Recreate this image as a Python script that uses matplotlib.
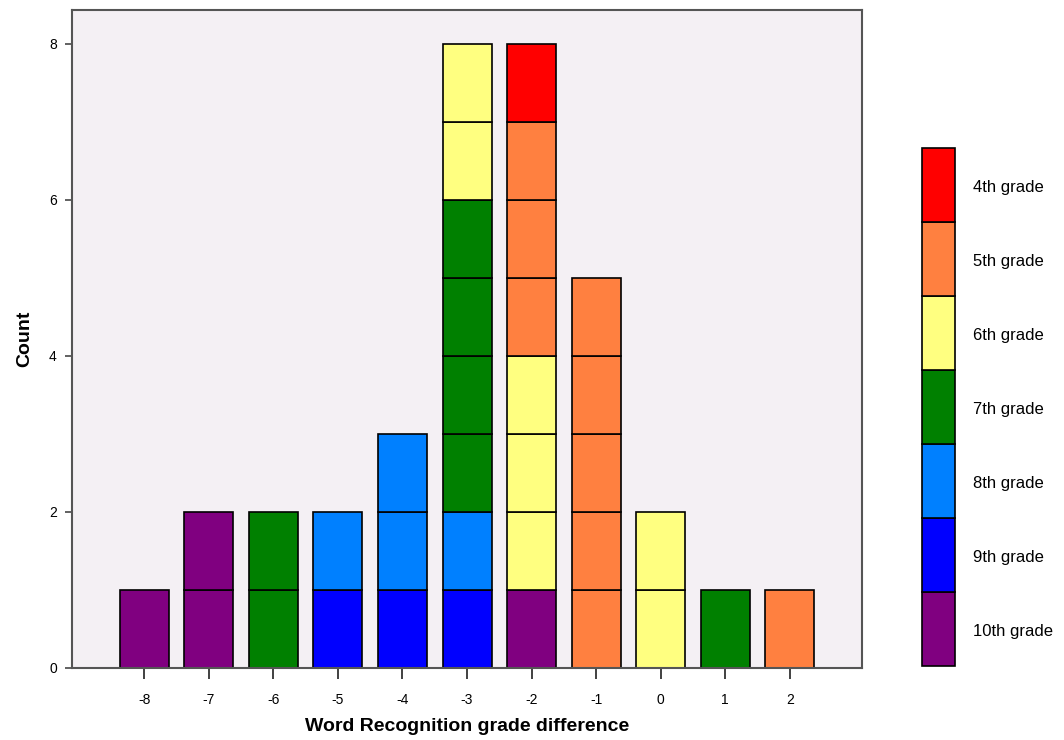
import numpy as np
import matplotlib
matplotlib.use("Agg")
import matplotlib.pyplot as plt
from matplotlib.patches import Rectangle

plt.rcParams['font.family'] = ['Liberation Sans', 'DejaVu Sans']
plt.rcParams['axes.unicode_minus'] = False

diffs = [-8, -7, -6, -5, -4, -3, -2, -1, 0, 1, 2]
grades = ['10th grade', '9th grade', '8th grade', '7th grade', '6th grade', '5th grade', '4th grade']
colors = ['#800080', '#0000FF', '#0080FF', '#008000', '#FFFF80', '#FF8040', '#FF0000']

# counts per grade, one entry per difference value (stacked bottom -> top)
c10 = [1, 2, 0, 0, 0, 0, 1, 0, 0, 0, 0]
c9 = [0, 0, 0, 1, 1, 1, 0, 0, 0, 0, 0]
c8 = [0, 0, 0, 1, 2, 1, 0, 0, 0, 0, 0]
c7 = [0, 0, 2, 0, 0, 4, 0, 0, 0, 1, 0]
c6 = [0, 0, 0, 0, 0, 2, 3, 0, 2, 0, 0]
c5 = [0, 0, 0, 0, 0, 0, 3, 5, 0, 0, 1]
c4 = [0, 0, 0, 0, 0, 0, 1, 0, 0, 0, 0]
counts = [c10, c9, c8, c7, c6, c5, c4]

fig = plt.figure(figsize=(10.64, 7.4), dpi=100)
ax = fig.add_axes([0.0677, 0.0973, 0.7425, 0.8892])
ax.set_facecolor('#F4F0F4')

bottom = np.zeros(len(diffs))
for cnt, col in zip(counts, colors):
    for i, x in enumerate(diffs):
        for k in range(cnt[i]):
            ax.bar(x, 1, bottom=bottom[i], width=0.76, color=col,
                   edgecolor='black', linewidth=1.2)
            bottom[i] += 1

ax.set_xlim(-9.12, 3.12)
ax.set_ylim(0, 8.43)
ax.set_xticks(diffs)
ax.set_yticks([0, 2, 4, 6, 8])
for s in ax.spines.values():
    s.set_color('#555555')
    s.set_linewidth(1.5)
ax.tick_params(axis='x', length=8, width=1.3, color='#333333', labelsize=10, pad=10)
ax.tick_params(axis='y', length=5, width=1.3, color='#555555', labelsize=10, pad=6)
ax.set_xlabel('Word Recognition grade difference', fontsize=14, fontweight='bold', labelpad=8)
ax.set_ylabel('Count', fontsize=14, fontweight='bold', labelpad=11)

# discrete colour key on the right
lax = fig.add_axes([0.8665, 0.1, 0.031, 0.7])
lax.set_xlim(0, 1)
lax.set_ylim(0, len(grades))
for j, (g, col) in enumerate(zip(grades, colors)):
    lax.add_patch(Rectangle((0, j), 1, 1, facecolor=col, edgecolor='black',
                            linewidth=1.2, clip_on=False))
    lax.text(1.55, j + 0.46, g, va='center', ha='left', fontsize=12)
lax.axis('off')

fig.savefig('out.png', dpi=100, facecolor='white')
